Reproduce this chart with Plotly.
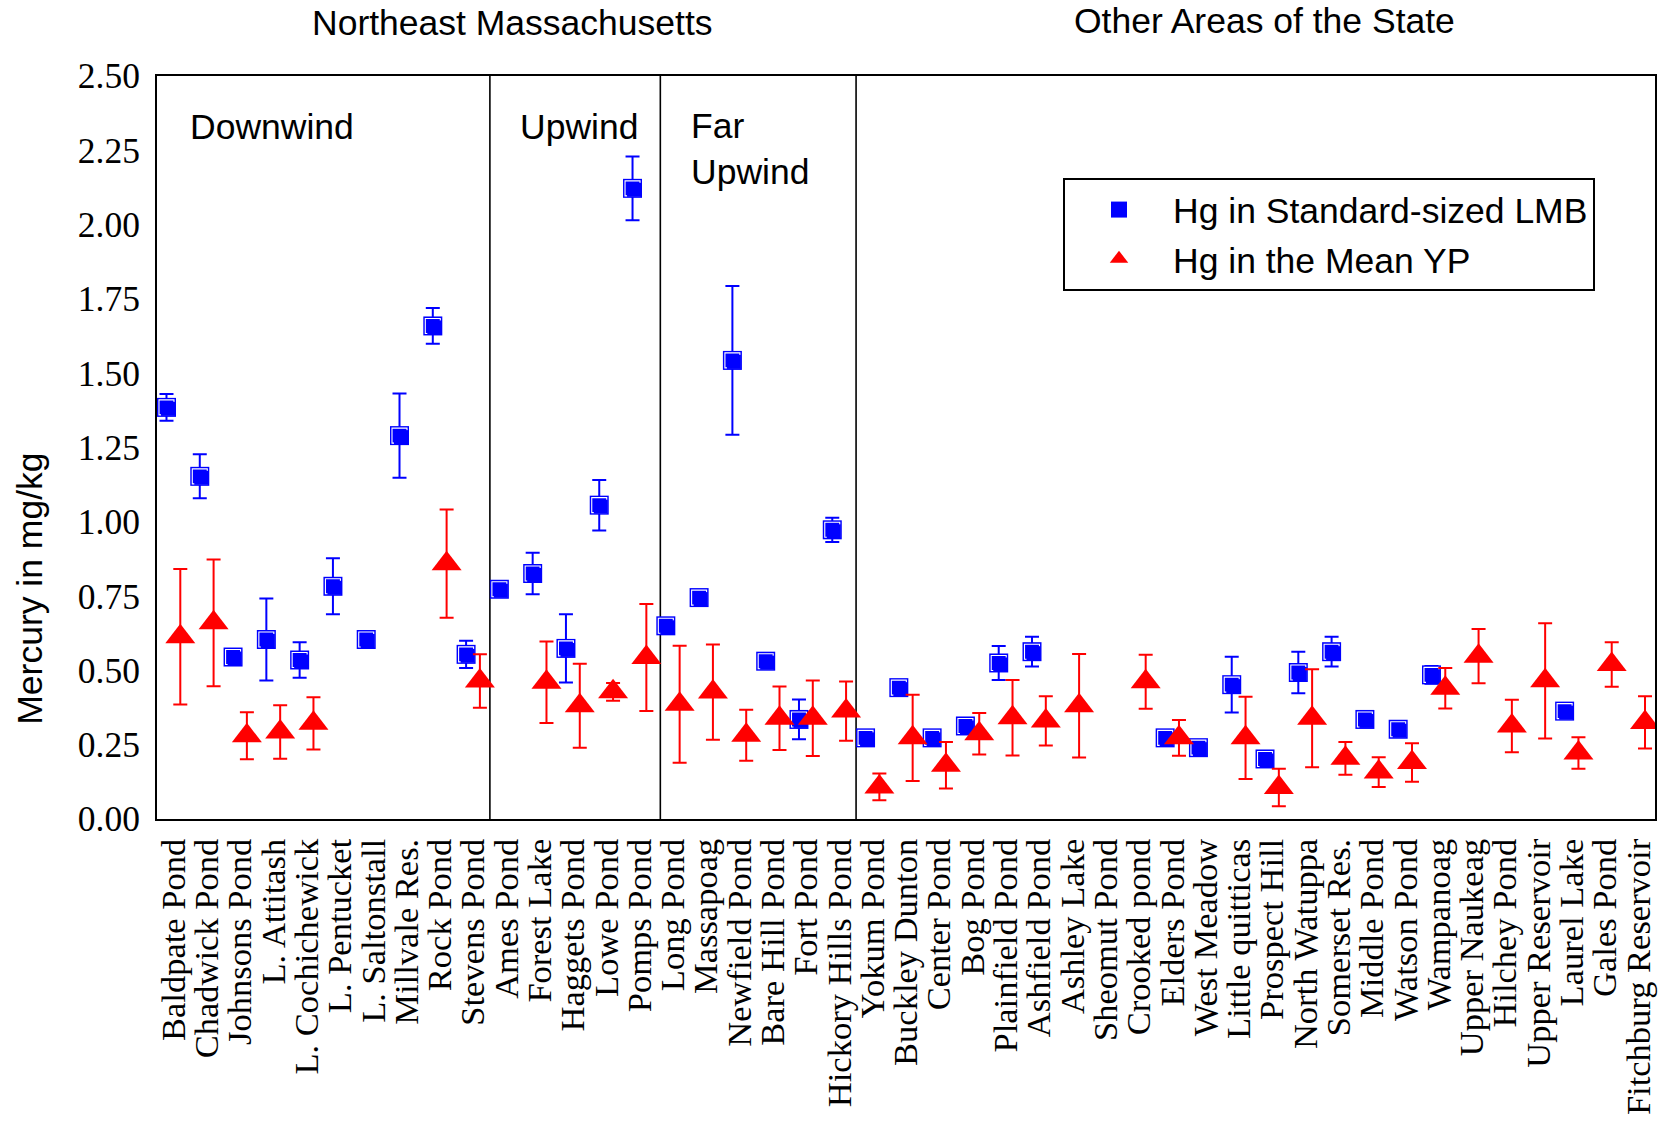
import plotly.graph_objects as go

# Lakes, grouped by region (10 downwind, 5 upwind, 6 far upwind, 24 elsewhere)
lakes = [
    "Baldpate Pond", "Chadwick Pond", "Johnsons Pond", "L. Attitash", "L. Cochichewick",
    "L. Pentucket", "L. Saltonstall", "Millvale Res.", "Rock Pond", "Stevens Pond",
    "Ames Pond", "Forest Lake", "Haggets Pond", "Lowe Pond", "Pomps Pond",
    "Long Pond", "Massapoag", "Newfield Pond", "Bare Hill Pond", "Fort Pond",
    "Hickory Hills Pond",
    "Yokum Pond", "Buckley Dunton", "Center Pond", "Bog Pond", "Plainfield Pond",
    "Ashfield Pond", "Ashley Lake", "Sheomut Pond", "Crooked pond", "Elders Pond",
    "West Meadow", "Little quitticas", "Prospect Hill", "North Watuppa", "Somerset Res.",
    "Middle Pond", "Watson Pond", "Wampanoag", "Upper Naukeag", "Hilchey Pond",
    "Upper Reservoir", "Laurel Lake", "Gales Pond", "Fitchburg Reservoir",
]

# Hg (mg/kg) in standard-sized largemouth bass, with error
lmb_hg = [
    1.385, 1.153, 0.545, 0.604, 0.535, 0.783, 0.604, 1.290, 1.659, 0.554,
    0.773, 0.826, 0.574, 1.056, 2.122,
    0.650, 0.745, 1.543, 0.531, 0.335, 0.973,
    0.273, 0.442, 0.273, 0.313, 0.525, 0.563, None, None, None, 0.273,
    0.240, 0.452, 0.202, 0.493, 0.563, 0.335, 0.302, 0.485, None, None,
    None, 0.363, None, None,
]
lmb_err = [
    0.045, 0.074, 0.0, 0.138, 0.060, 0.094, 0.0, 0.142, 0.060, 0.046,
    0.0, 0.070, 0.115, 0.085, 0.107,
    0.0, 0.0, 0.250, 0.015, 0.067, 0.041,
    0.0, 0.0, 0.010, 0.0, 0.057, 0.050, 0.0, 0.0, 0.0, 0.0,
    0.0, 0.094, 0.0, 0.070, 0.050, 0.0, 0.0, 0.030, 0.0, 0.0,
    0.0, 0.0, 0.0, 0.0,
]

# Mean Hg (mg/kg) in yellow perch, with error
yp_hg = [
    0.613, 0.660, 0.280, 0.293, 0.322, None, None, None, 0.859, 0.464,
    None, 0.460, 0.381, 0.428, 0.543,
    0.386, 0.427, 0.282, 0.339, 0.339, 0.363,
    0.108, 0.273, 0.181, 0.287, 0.341, 0.330, 0.381, None, 0.462, 0.273,
    None, 0.273, 0.106, 0.339, 0.204, 0.158, 0.190, 0.440, 0.548, 0.313,
    0.465, 0.222, 0.520, 0.325,
]
yp_err = [
    0.228, 0.213, 0.079, 0.090, 0.088, 0.0, 0.0, 0.0, 0.182, 0.090,
    0.0, 0.137, 0.141, 0.030, 0.180,
    0.197, 0.160, 0.086, 0.107, 0.127, 0.100,
    0.045, 0.145, 0.078, 0.070, 0.127, 0.083, 0.174, 0.0, 0.091, 0.060,
    0.0, 0.138, 0.063, 0.165, 0.055, 0.050, 0.065, 0.068, 0.091, 0.088,
    0.194, 0.053, 0.075, 0.088,
]

y_tick_vals = [0.0, 0.25, 0.5, 0.75, 1.0, 1.25, 1.5, 1.75, 2.0, 2.25, 2.5]

BLUE = "#0000ff"
RED = "#ff0000"
SANS = "Liberation Sans, Arial, sans-serif"
SERIF = "Liberation Serif, Times New Roman, serif"
FS = 35.5

W, H = 1665, 1126
M_L, M_R, M_T, M_B = 157, 10, 76, 307
PLOT_W = W - M_L - M_R
PLOT_H = H - M_T - M_B
X_MIN, X_MAX = -0.5, len(lakes) - 0.5
Y_MIN, Y_MAX = 0.0, 2.5
ux = (X_MAX - X_MIN) / PLOT_W      # data units per pixel, x
uy = (Y_MAX - Y_MIN) / PLOT_H      # data units per pixel, y

idx = list(range(len(lakes)))
lmb_x = [i - 0.215 for i in idx]
yp_x = [i + 0.2 for i in idx]

fig = go.Figure()

# bass: blue squares with error bars
fig.add_trace(go.Scatter(
    x=lmb_x, y=lmb_hg, mode="markers", name="Hg in Standard-sized LMB",
    marker=dict(symbol="square", size=19, color=BLUE, line=dict(width=0)),
    error_y=dict(type="data", array=lmb_err, color=BLUE, thickness=2, width=7),
    cliponaxis=True,
))

# bevel highlight on the squares (white inner edge on top/left)
pts = [(x, y) for x, y in zip(lmb_x, lmb_hg) if y is not None]
fig.add_trace(go.Scatter(
    x=[p[0] for p in pts], y=[p[1] for p in pts], mode="markers",
    showlegend=False, hoverinfo="skip",
    marker=dict(symbol="square-open", size=15, color="white",
                line=dict(width=1.1, color="white")),
))
fig.add_trace(go.Scatter(
    x=[p[0] + 1.5 * ux for p in pts], y=[p[1] - 1.5 * uy for p in pts], mode="markers",
    showlegend=False, hoverinfo="skip",
    marker=dict(symbol="square", size=14, color=BLUE, line=dict(width=0)),
))

# perch: red triangles with error bars
fig.add_trace(go.Scatter(
    x=yp_x, y=yp_hg, mode="markers", name="Hg in the Mean YP",
    marker=dict(symbol="triangle-up", size=26, color=RED, line=dict(width=0)),
    error_y=dict(type="data", array=yp_err, color=RED, thickness=2, width=7),
    cliponaxis=True,
))

# region dividers
for xd in [9.5, 14.62, 20.5]:
    fig.add_shape(type="line", xref="x", yref="paper", x0=xd, x1=xd, y0=0, y1=1,
                  line=dict(color="black", width=1.6), layer="below")

annos = [
    dict(text="Northeast Massachusetts", x=0.237, y=1.0713, xanchor="center"),
    dict(text="Other Areas of the State", x=0.739, y=1.074, xanchor="center"),
    dict(text="Downwind", x=0.0207, y=0.9307, xanchor="left"),
    dict(text="Upwind", x=0.241, y=0.9307, xanchor="left"),
    dict(text="Far<br>Upwind", x=0.355, y=0.9024, xanchor="left", align="left"),
]
for a in annos:
    fig.add_annotation(xref="paper", yref="paper", yanchor="middle", showarrow=False,
                       font=dict(family=SANS, size=FS, color="black"), **a)

fig.add_annotation(text="Mercury in mg/kg", xref="paper", yref="paper",
                   x=(29.7 - M_L) / PLOT_W, y=(H - M_B - 589) / PLOT_H,
                   xanchor="center", yanchor="middle", textangle=-90, showarrow=False,
                   font=dict(family=SANS, size=FS, color="black"))

fig.update_layout(
    width=W, height=H,
    margin=dict(l=M_L, r=M_R, t=M_T, b=M_B, autoexpand=False),
    paper_bgcolor="white", plot_bgcolor="white",
    showlegend=True,
    legend=dict(x=(1063 - M_L) / PLOT_W, y=(H - M_B - 178) / PLOT_H,
                xanchor="left", yanchor="top",
                bordercolor="black", borderwidth=2, bgcolor="white",
                font=dict(family=SANS, size=FS, color="black"),
                itemwidth=98, tracegroupgap=0),
    xaxis=dict(range=[X_MIN, X_MAX], tickmode="array", tickvals=idx, ticktext=lakes,
               tickangle=-90, tickfont=dict(family=SERIF, size=34.5, color="black"),
               showgrid=False, zeroline=False, showline=True, linecolor="black",
               linewidth=2, mirror=True, ticks="", ticklabelstandoff=4,
               automargin=False),
    yaxis=dict(range=[Y_MIN, Y_MAX], tickmode="array", tickvals=y_tick_vals,
               ticktext=[f"{v:.2f}" for v in y_tick_vals],
               tickfont=dict(family=SERIF, size=FS, color="black"),
               showgrid=False, zeroline=False, showline=True, linecolor="black",
               linewidth=2, mirror=True, ticks="", ticklabelstandoff=8,
               automargin=False),
)

fig.write_html("out.html")
